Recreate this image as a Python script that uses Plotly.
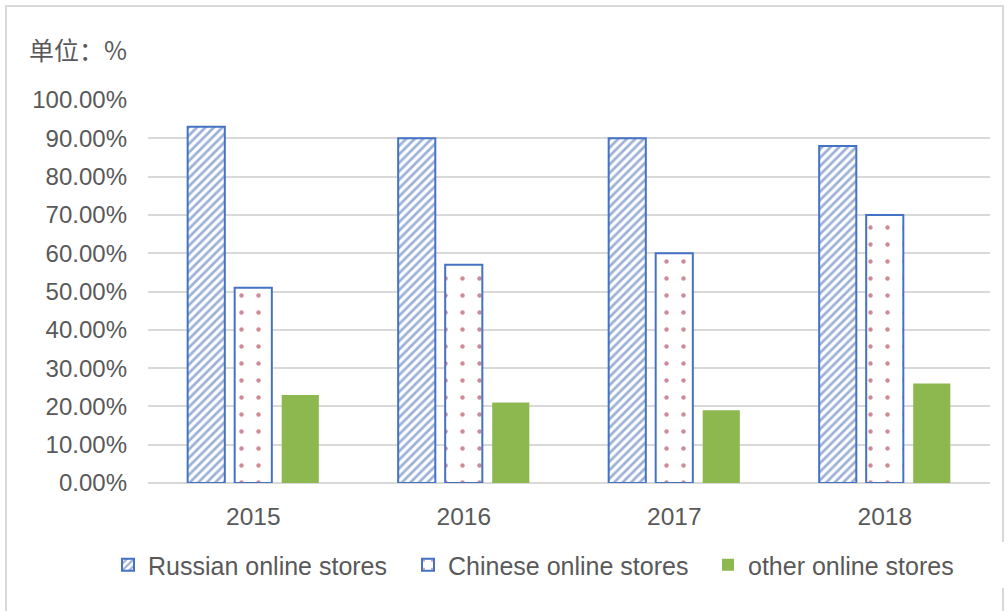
import plotly.graph_objects as go

years = ["2015", "2016", "2017", "2018"]
russian = [93, 90, 90, 88]
chinese = [51, 57, 60, 70]
other = [23, 21, 19, 26]
series_names = ["Russian online stores", "Chinese online stores", "other online stores"]
y_ticks = [0, 10, 20, 30, 40, 50, 60, 70, 80, 90, 100]
y_tick_text = ["0.00%", "10.00%", "20.00%", "30.00%", "40.00%", "50.00%",
               "60.00%", "70.00%", "80.00%", "90.00%", "100.00%"]

FONT = "Liberation Sans, Arial, Noto Sans CJK SC, sans-serif"
GREY = "#595959"
BLUE = "#4472C4"

fig = go.Figure()
fig.add_trace(go.Bar(
    x=years, y=russian, name=series_names[0],
    marker=dict(color="white", line=dict(color=BLUE, width=2),
                pattern=dict(shape="/", fgcolor="#3A62B0", bgcolor="white",
                             size=6, solidity=0.45)),
))
fig.add_trace(go.Bar(
    x=years, y=chinese, name=series_names[1],
    marker=dict(color="white", line=dict(color=BLUE, width=2),
                pattern=dict(shape=".", fgcolor="#9E1830", bgcolor="white",
                             size=17, solidity=0.055)),
))
fig.add_trace(go.Bar(
    x=years, y=other, name=series_names[2],
    marker=dict(color="#8DB84F", line=dict(width=0)),
))

# light frame around the whole chart
L, T = 148, 100
W, H = 842, 383
def px_x(v):
    return (v - L) / W
def px_y(v):
    return (T + H - v) / H

fig.add_shape(type="rect", xref="paper", yref="paper",
              x0=px_x(6), x1=px_x(1003), y0=px_y(640), y1=px_y(6),
              line=dict(color="#d9d9d9", width=2), fillcolor="rgba(0,0,0,0)",
              layer="below")

fig.update_layout(
    width=1008, height=611,
    margin=dict(l=L, r=1008 - L - W, t=T, b=611 - T - H),
    paper_bgcolor="white", plot_bgcolor="white",
    barmode="group", bargap=0.33, bargroupgap=0.21,
    font=dict(family=FONT, color=GREY, size=24),
    title=dict(text="单位：%", xref="container", yref="container",
               x=29 / 1008, y=1 - 51 / 611, xanchor="left", yanchor="middle",
               font=dict(family="Noto Sans CJK SC, sans-serif", size=25, color=GREY)),
    xaxis=dict(showgrid=False, showline=False, ticks="", ticklabelstandoff=16,
               tickfont=dict(size=24.5, color=GREY)),
    yaxis=dict(range=[0, 100], tickmode="array", tickvals=y_ticks, ticktext=y_tick_text,
               showgrid=True, gridcolor="#d9d9d9", gridwidth=2,
               zeroline=True, zerolinecolor="#d9d9d9", zerolinewidth=2,
               showline=False, ticks="", ticklabelstandoff=20,
               tickfont=dict(size=24, color=GREY)),
    legend=dict(orientation="h", x=px_x(133), y=px_y(565),
                xanchor="left", yanchor="middle",
                entrywidth=255, entrywidthmode="pixels",
                font=dict(size=25, color=GREY), traceorder="normal"),
    showlegend=True,
)

fig.write_html("out.html")
